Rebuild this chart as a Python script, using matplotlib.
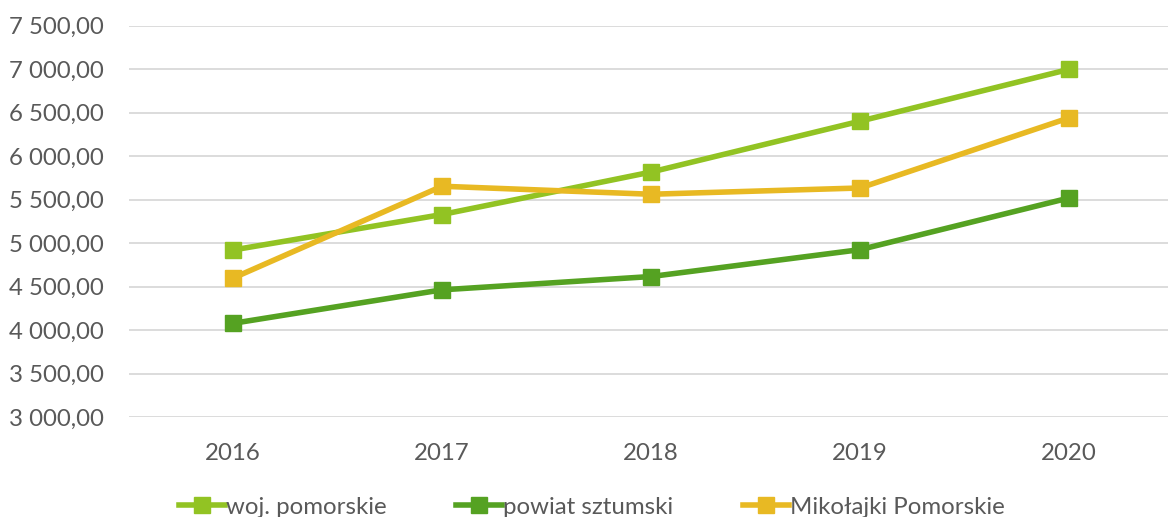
import numpy as np
import matplotlib.pyplot as plt

# ---------------------------------------------- Data
years = ['2016', '2017', '2018', '2019', '2020']
woj_pomorskie = [4920, 5328, 5816, 6401, 6997]
powiat_sztumski = [4077, 4462, 4615, 4924, 5518]
mikolajki = [4597, 5653, 5561, 5633, 6439]

series = [
    ('woj. pomorskie', woj_pomorskie, '#92C323'),
    ('powiat sztumski', powiat_sztumski, '#55A222'),
    ('Mikołajki Pomorskie', mikolajki, '#E8B923'),
]

# ---------------------------------------------- Plot
plt.rcParams['font.family'] = ['Lato', 'DejaVu Sans']
text_col = '#595959'
fs = 17.3

fig = plt.figure(figsize=(11.68, 5.17), dpi=100)
ax = fig.add_axes([128.5/1168, 1 - 417/517, 1045/1168, (417 - 25.6)/517])

x = np.arange(len(years))
for name, vals, col in series:
    ax.plot(x, vals, color=col, lw=4, marker='s', markersize=11.5,
            label=name, solid_joinstyle='round')

ax.set_xlim(-0.5, len(years) - 0.5)
ax.set_ylim(3000, 7500)
ax.set_yticks(np.arange(3000, 7501, 500))
ax.set_yticklabels([f'{v:,.2f}'.replace(',', ' ').replace('.', ',')
                    for v in np.arange(3000, 7501, 500)])
ax.set_xticks(x)
ax.set_xticklabels(years)

ax.grid(axis='y', color='#D9D9D9', lw=1.3)
ax.set_axisbelow(True)
for s in ax.spines.values():
    s.set_visible(False)
ax.tick_params(axis='both', length=0, labelsize=fs, labelcolor=text_col)
ax.tick_params(axis='x', pad=19)
ax.tick_params(axis='y', pad=18)

fig.legend(loc='center', bbox_to_anchor=(592/1168, 1 - 507/517), ncol=3,
           frameon=False, fontsize=fs, labelcolor=text_col,
           handlelength=1.9, handletextpad=0.05, columnspacing=2.9)

fig.savefig('out.png', dpi=100)
